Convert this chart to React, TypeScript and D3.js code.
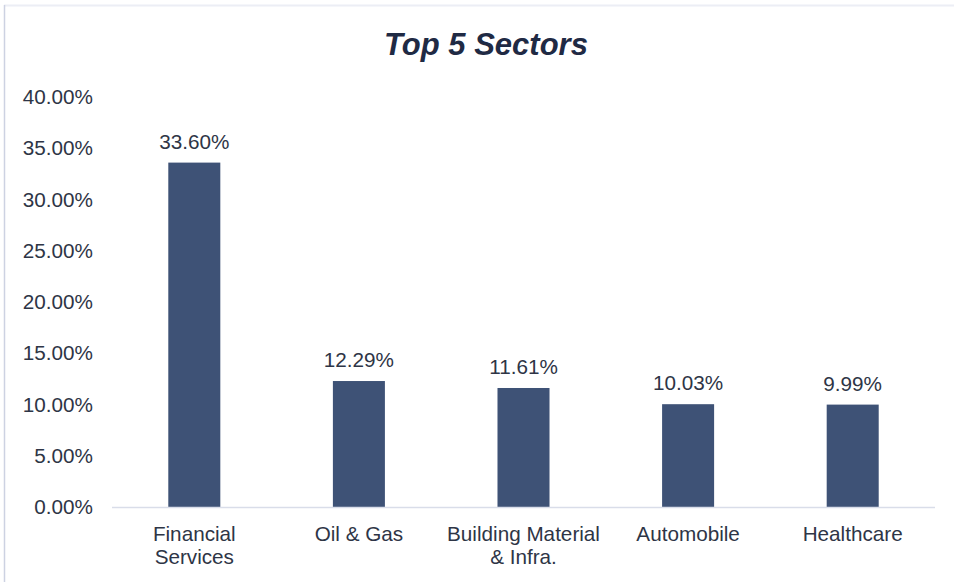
import React from "react";
import * as d3 from "d3";

const SECTORS = [
  ["Financial", "Services"],
  ["Oil & Gas"],
  ["Building Material", "& Infra."],
  ["Automobile"],
  ["Healthcare"],
];
const SECTOR_KEYS = ["Financial Services", "Oil & Gas", "Building Material & Infra.", "Automobile", "Healthcare"];
const WEIGHTS = [33.6, 12.29, 11.61, 10.03, 9.99];
const Y_TICKS = [0, 5, 10, 15, 20, 25, 30, 35, 40];

const W = 954;
const H = 582;
const BAR_COLOR = "#3e5276";
const TEXT_COLOR = "#2e3546";
const FS = 20.7;

export default function App() {
  const margin = { top: 97, right: 19, bottom: 75, left: 112 };

  const x = d3
    .scaleBand()
    .domain(SECTOR_KEYS)
    .range([margin.left, W - margin.right])
    .paddingInner(0.684)
    .paddingOuter(0.342);

  const y = d3.scaleLinear().domain([0, 40]).range([H - margin.bottom, margin.top]);

  const fmt = (v: number) => v.toFixed(2) + "%";

  return (
    <svg
      width={W}
      height={H}
      style={{ position: "fixed", left: 0, top: 0, fontFamily: "'Liberation Sans', Arial, sans-serif" }}
    >
      <rect x={0} y={0} width={W} height={H} fill="#fff" />
      {/* chart frame */}
      <line x1={4} x2={W} y1={5.5} y2={5.5} stroke="#eceef5" strokeWidth={2} />
      <line x1={4.5} x2={4.5} y1={5} y2={H} stroke="#cdd2e2" strokeWidth={1.5} />

      <text
        x={486}
        y={55}
        textAnchor="middle"
        fontSize={31}
        fontWeight="bold"
        fontStyle="italic"
        fill="#1f2a44"
      >
        Top 5 Sectors
      </text>

      {/* y axis labels */}
      {Y_TICKS.map((t) => (
        <text key={t} x={93} y={y(t)} dy="0.35em" textAnchor="end" fontSize={FS} fill={TEXT_COLOR}>
          {fmt(t)}
        </text>
      ))}

      {/* bars */}
      {SECTOR_KEYS.map((k, i) => (
        <g key={k}>
          <rect
            x={x(k)}
            y={y(WEIGHTS[i])}
            width={x.bandwidth()}
            height={y(0) - y(WEIGHTS[i])}
            fill={BAR_COLOR}
          />
          <text
            x={(x(k) as number) + x.bandwidth() / 2}
            y={y(WEIGHTS[i]) - 14}
            textAnchor="middle"
            fontSize={FS}
            fill={TEXT_COLOR}
          >
            {fmt(WEIGHTS[i])}
          </text>
          {SECTORS[i].map((line, j) => (
            <text
              key={j}
              x={(x(k) as number) + x.bandwidth() / 2}
              y={541 + j * 23}
              textAnchor="middle"
              fontSize={FS}
              fill={TEXT_COLOR}
            >
              {line}
            </text>
          ))}
        </g>
      ))}

      {/* x axis line */}
      <line
        x1={margin.left}
        x2={W - margin.right}
        y1={y(0) + 0.5}
        y2={y(0) + 0.5}
        stroke="#d9dde9"
        strokeWidth={1.5}
      />
    </svg>
  );
}
